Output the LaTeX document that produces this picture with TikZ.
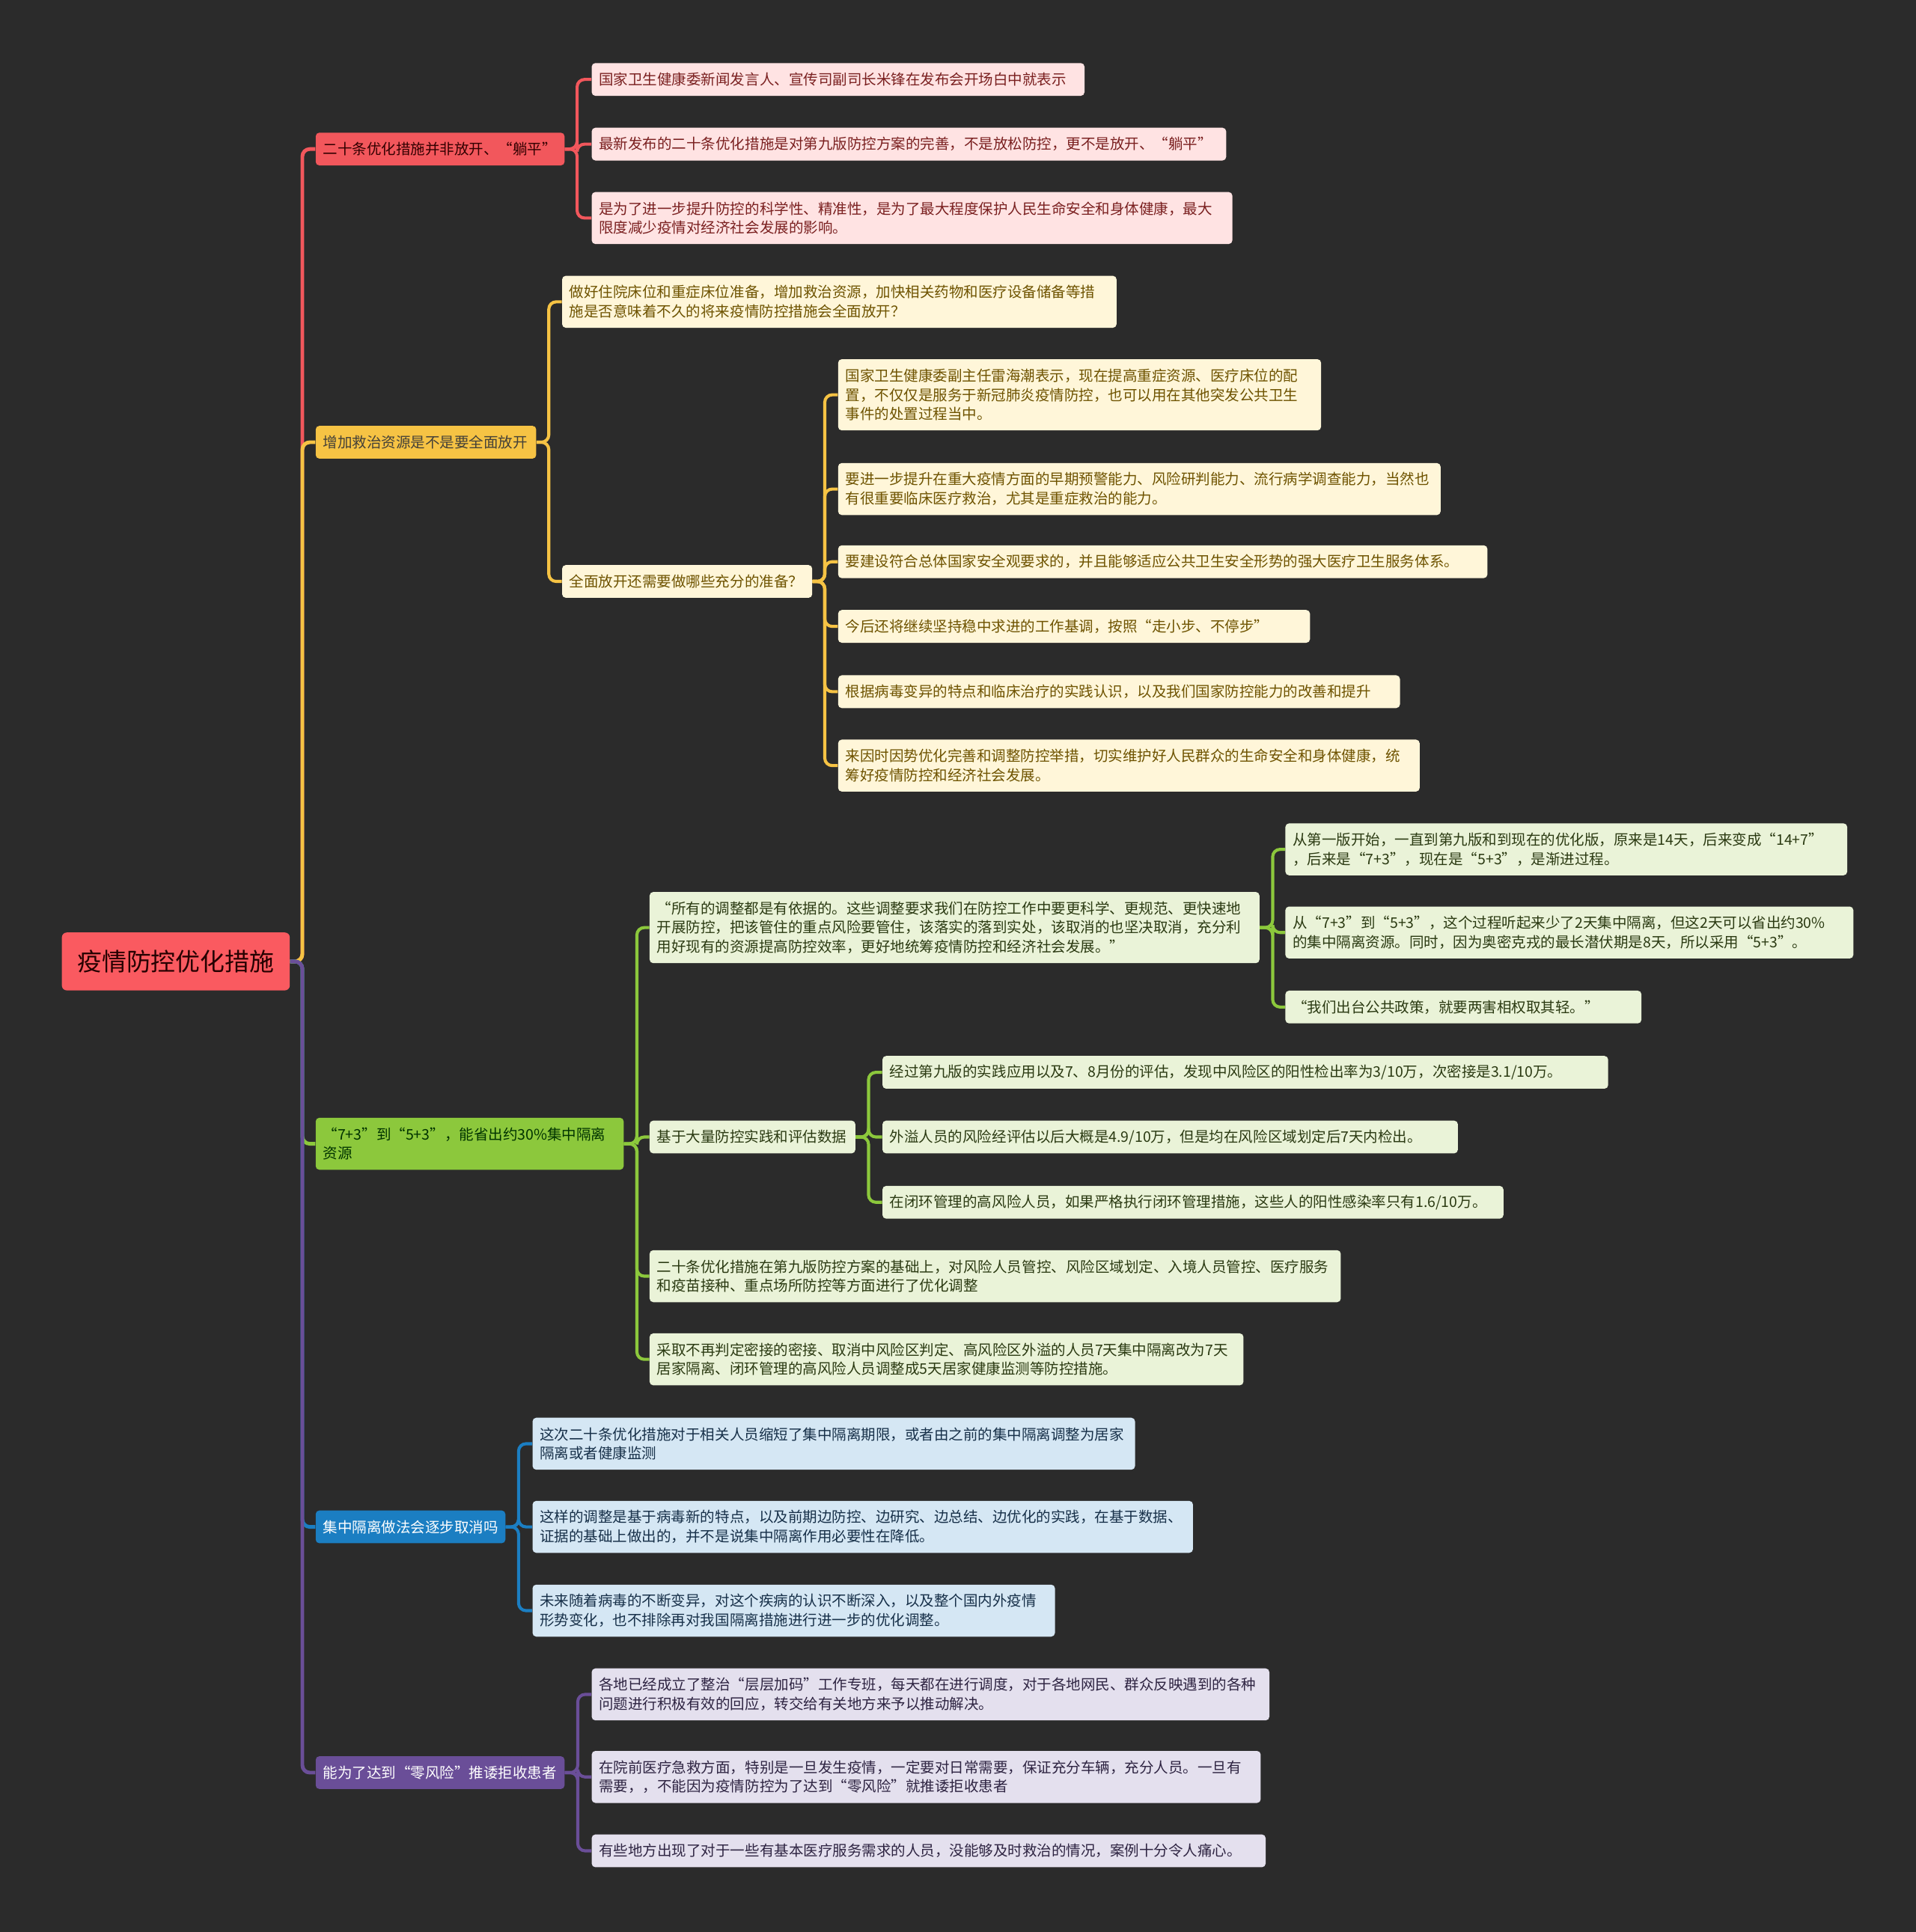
\documentclass[tikz,border=0pt]{standalone}
\usepackage{fontspec}
\setmainfont{Noto Sans CJK SC}
\usetikzlibrary{backgrounds}
\definecolor{bgc}{HTML}{2B2B2B}
\definecolor{rootc}{HTML}{FA5A60}
\definecolor{redm}{HTML}{F2575C}
\definecolor{redf}{HTML}{FFE3E3}
\definecolor{redt}{HTML}{7A2020}
\definecolor{yelm}{HTML}{F6C344}
\definecolor{yelf}{HTML}{FFF6D9}
\definecolor{yelt}{HTML}{6E5300}
\definecolor{grnm}{HTML}{8CC83C}
\definecolor{grnf}{HTML}{EAF3D8}
\definecolor{grnt}{HTML}{2B3A12}
\definecolor{blum}{HTML}{1B7EC2}
\definecolor{bluf}{HTML}{D5E7F4}
\definecolor{blut}{HTML}{173049}
\definecolor{purm}{HTML}{6A4E98}
\definecolor{purf}{HTML}{E4E0EE}
\definecolor{purt}{HTML}{2E2442}
\begin{document}
\begin{tikzpicture}[x=1pt,y=-1pt,
  box/.style={rectangle, rounded corners=3pt, inner xsep=6pt, inner ysep=0pt,
    anchor=west, align=left, font=\fontsize{11.85}{15.6}\selectfont},
  one/.style={minimum height=26.6pt},
  two/.style={minimum height=42.2pt},
  three/.style={minimum height=57.8pt},
  rootbox/.style={rectangle, rounded corners=4pt, fill=rootc, text=black!85!red,
    minimum width=185pt, minimum height=47pt, anchor=west, inner sep=0pt,
    font=\fontsize{20}{24}\selectfont},
  rl1/.style={box, fill=redm, text=black!80!red},
  rc/.style={box, fill=redf, text=redt},
  yl1/.style={box, fill=yelm, text=black!85!yellow},
  yc/.style={box, fill=yelf, text=yelt},
  gl1/.style={box, fill=grnm, text=black!80!green},
  gc/.style={box, fill=grnf, text=grnt},
  bl1/.style={box, fill=blum, text=white},
  bc/.style={box, fill=bluf, text=blut},
  pl1/.style={box, fill=purm, text=white},
  pc/.style={box, fill=purf, text=purt},
  conn/.style={line width=2.5pt, rounded corners=6pt},
]
\useasboundingbox (0,0) rectangle (1555,1568.4);

% root
\node[rootbox] (root) at (50,780.5) {疫情防控优化措施};

% level 1
\node[rl1,one,text width=190pt] (R1) at (256,121) {二十条优化措施并非放开、“躺平”};
\node[yl1,one,text width=167pt] (Y1) at (256,359) {增加救治资源是不是要全面放开};
\node[gl1,two,text width=238pt] (G1) at (256,928.5) {“7+3”到“5+3”，能省出约30\%集中隔离\\资源};
\node[bl1,one,text width=142pt] (B1) at (256,1239.5) {集中隔离做法会逐步取消吗};
\node[pl1,one,text width=190pt] (P1) at (256,1439) {能为了达到“零风险”推诿拒收患者};

% red children
\node[rc,one,text width=388pt] (r1) at (480,64.5) {国家卫生健康委新闻发言人、宣传司副司长米锋在发布会开场白中就表示};
\node[rc,one,text width=503pt] (r2) at (480,117) {最新发布的二十条优化措施是对第九版防控方案的完善，不是放松防控，更不是放开、“躺平”};
\node[rc,two,text width=508pt] (r3) at (480,177) {是为了进一步提升防控的科学性、精准性，是为了最大程度保护人民生命安全和身体健康，最大\\限度减少疫情对经济社会发展的影响。};

% yellow children
\node[yc,two,text width=438pt] (y1) at (456,245) {做好住院床位和重症床位准备，增加救治资源，加快相关药物和医疗设备储备等措\\施是否意味着不久的将来疫情防控措施会全面放开？};
\node[yc,one,text width=191pt] (y2) at (456,472) {全面放开还需要做哪些充分的准备？};
\node[yc,three,text width=380pt] (y21) at (680,320.5) {国家卫生健康委副主任雷海潮表示，现在提高重症资源、医疗床位的配\\置，不仅仅是服务于新冠肺炎疫情防控，也可以用在其他突发公共卫生\\事件的处置过程当中。};
\node[yc,two,text width=477pt] (y22) at (680,397) {要进一步提升在重大疫情方面的早期预警能力、风险研判能力、流行病学调查能力，当然也\\有很重要临床医疗救治，尤其是重症救治的能力。};
\node[yc,one,text width=515pt] (y23) at (680,456) {要建设符合总体国家安全观要求的，并且能够适应公共卫生安全形势的强大医疗卫生服务体系。};
\node[yc,one,text width=371pt] (y24) at (680,508.5) {今后还将继续坚持稳中求进的工作基调，按照“走小步、不停步”};
\node[yc,one,text width=444pt] (y25) at (680,561.5) {根据病毒变异的特点和临床治疗的实践认识，以及我们国家防控能力的改善和提升};
\node[yc,two,text width=460pt] (y26) at (680,621.5) {来因时因势优化完善和调整防控举措，切实维护好人民群众的生命安全和身体健康，统\\筹好疫情防控和经济社会发展。};

% green children
\node[gc,three,text width=483pt] (g1) at (527,753) {“所有的调整都是有依据的。这些调整要求我们在防控工作中要更科学、更规范、更快速地\\开展防控，把该管住的重点风险要管住，该落实的落到实处，该取消的也坚决取消，充分利\\用好现有的资源提高防控效率，更好地统筹疫情防控和经济社会发展。”};
\node[gc,two,text width=444pt] (g11) at (1043,689.5) {从第一版开始，一直到第九版和到现在的优化版，原来是14天，后来变成“14+7”\\，后来是“7+3”，现在是“5+3”，是渐进过程。};
\node[gc,two,text width=449pt] (g12) at (1043,757) {从“7+3”到“5+3”，这个过程听起来少了2天集中隔离，但这2天可以省出约30\%\\的集中隔离资源。同时，因为奥密克戎的最长潜伏期是8天，所以采用“5+3”。};
\node[gc,one,text width=277pt] (g13) at (1043,817.5) {“我们出台公共政策，就要两害相权取其轻。”};
\node[gc,one,text width=155pt] (g2) at (527,923) {基于大量防控实践和评估数据};
\node[gc,one,text width=577pt] (g21) at (716,870.5) {经过第九版的实践应用以及7、8月份的评估，发现中风险区的阳性检出率为3/10万，次密接是3.1/10万。};
\node[gc,one,text width=455pt] (g22) at (716,923) {外溢人员的风险经评估以后大概是4.9/10万，但是均在风险区域划定后7天内检出。};
\node[gc,one,text width=492pt] (g23) at (716,976) {在闭环管理的高风险人员，如果严格执行闭环管理措施，这些人的阳性感染率只有1.6/10万。};
\node[gc,two,text width=549pt] (g3) at (527,1036) {二十条优化措施在第九版防控方案的基础上，对风险人员管控、风险区域划定、入境人员管控、医疗服务\\和疫苗接种、重点场所防控等方面进行了优化调整};
\node[gc,two,text width=470pt] (g4) at (527,1103.5) {采取不再判定密接的密接、取消中风险区判定、高风险区外溢的人员7天集中隔离改为7天\\居家隔离、闭环管理的高风险人员调整成5天居家健康监测等防控措施。};

% blue children
\node[bc,two,text width=477pt] (b1) at (432,1172) {这次二十条优化措施对于相关人员缩短了集中隔离期限，或者由之前的集中隔离调整为居家\\隔离或者健康监测};
\node[bc,two,text width=524pt] (b2) at (432,1239.5) {这样的调整是基于病毒新的特点，以及前期边防控、边研究、边总结、边优化的实践，在基于数据、\\证据的基础上做出的，并不是说集中隔离作用必要性在降低。};
\node[bc,two,text width=412pt] (b3) at (432,1307.5) {未来随着病毒的不断变异，对这个疾病的认识不断深入，以及整个国内外疫情\\形势变化，也不排除再对我国隔离措施进行进一步的优化调整。};

% purple children
\node[pc,two,text width=538pt] (p1) at (480,1375.5) {各地已经成立了整治“层层加码”工作专班，每天都在进行调度，对于各地网民、群众反映遇到的各种\\问题进行积极有效的回应，转交给有关地方来予以推动解决。};
\node[pc,two,text width=531pt] (p2) at (480,1442.5) {在院前医疗急救方面，特别是一旦发生疫情，一定要对日常需要，保证充分车辆，充分人员。一旦有\\需要，，不能因为疫情防控为了达到“零风险”就推诿拒收患者};
\node[pc,one,text width=535pt] (p3) at (480,1502.5) {有些地方出现了对于一些有基本医疗服务需求的人员，没能够及时救治的情况，案例十分令人痛心。};

\begin{scope}[on background layer]
\fill[bgc] (0,0) rectangle (1555,1568.4);
% root branches
\draw[conn,redm,line width=3pt] (root.east) -- ++(10,0) |- (R1.west);
\draw[conn,yelm,line width=3pt] (root.east) -- ++(10,0) |- (Y1.west);
\draw[conn,grnm,line width=3pt] (root.east) -- ++(10,0) |- (G1.west);
\draw[conn,blum,line width=3pt] (root.east) -- ++(10,0) |- (B1.west);
\draw[conn,purm,line width=3pt] (root.east) -- ++(10,0) |- (P1.west);
% red
\foreach \c in {r1,r2,r3} \draw[conn,redm] (R1.east) -- ++(10,0) |- (\c.west);
% yellow
\foreach \c in {y1,y2} \draw[conn,yelm] (Y1.east) -- ++(10,0) |- (\c.west);
\foreach \c in {y21,y22,y23,y24,y25,y26} \draw[conn,yelm] (y2.east) -- ++(10,0) |- (\c.west);
% green
\foreach \c in {g1,g2,g3,g4} \draw[conn,grnm] (G1.east) -- ++(10.5,0) |- (\c.west);
\foreach \c in {g11,g12,g13} \draw[conn,grnm] (g1.east) -- ++(10.5,0) |- (\c.west);
\foreach \c in {g21,g22,g23} \draw[conn,grnm] (g2.east) -- ++(10.5,0) |- (\c.west);
% blue
\foreach \c in {b1,b2,b3} \draw[conn,blum] (B1.east) -- ++(10.5,0) |- (\c.west);
% purple
\foreach \c in {p1,p2,p3} \draw[conn,purm] (P1.east) -- ++(10.5,0) |- (\c.west);
\end{scope}
\end{tikzpicture}
\end{document}
